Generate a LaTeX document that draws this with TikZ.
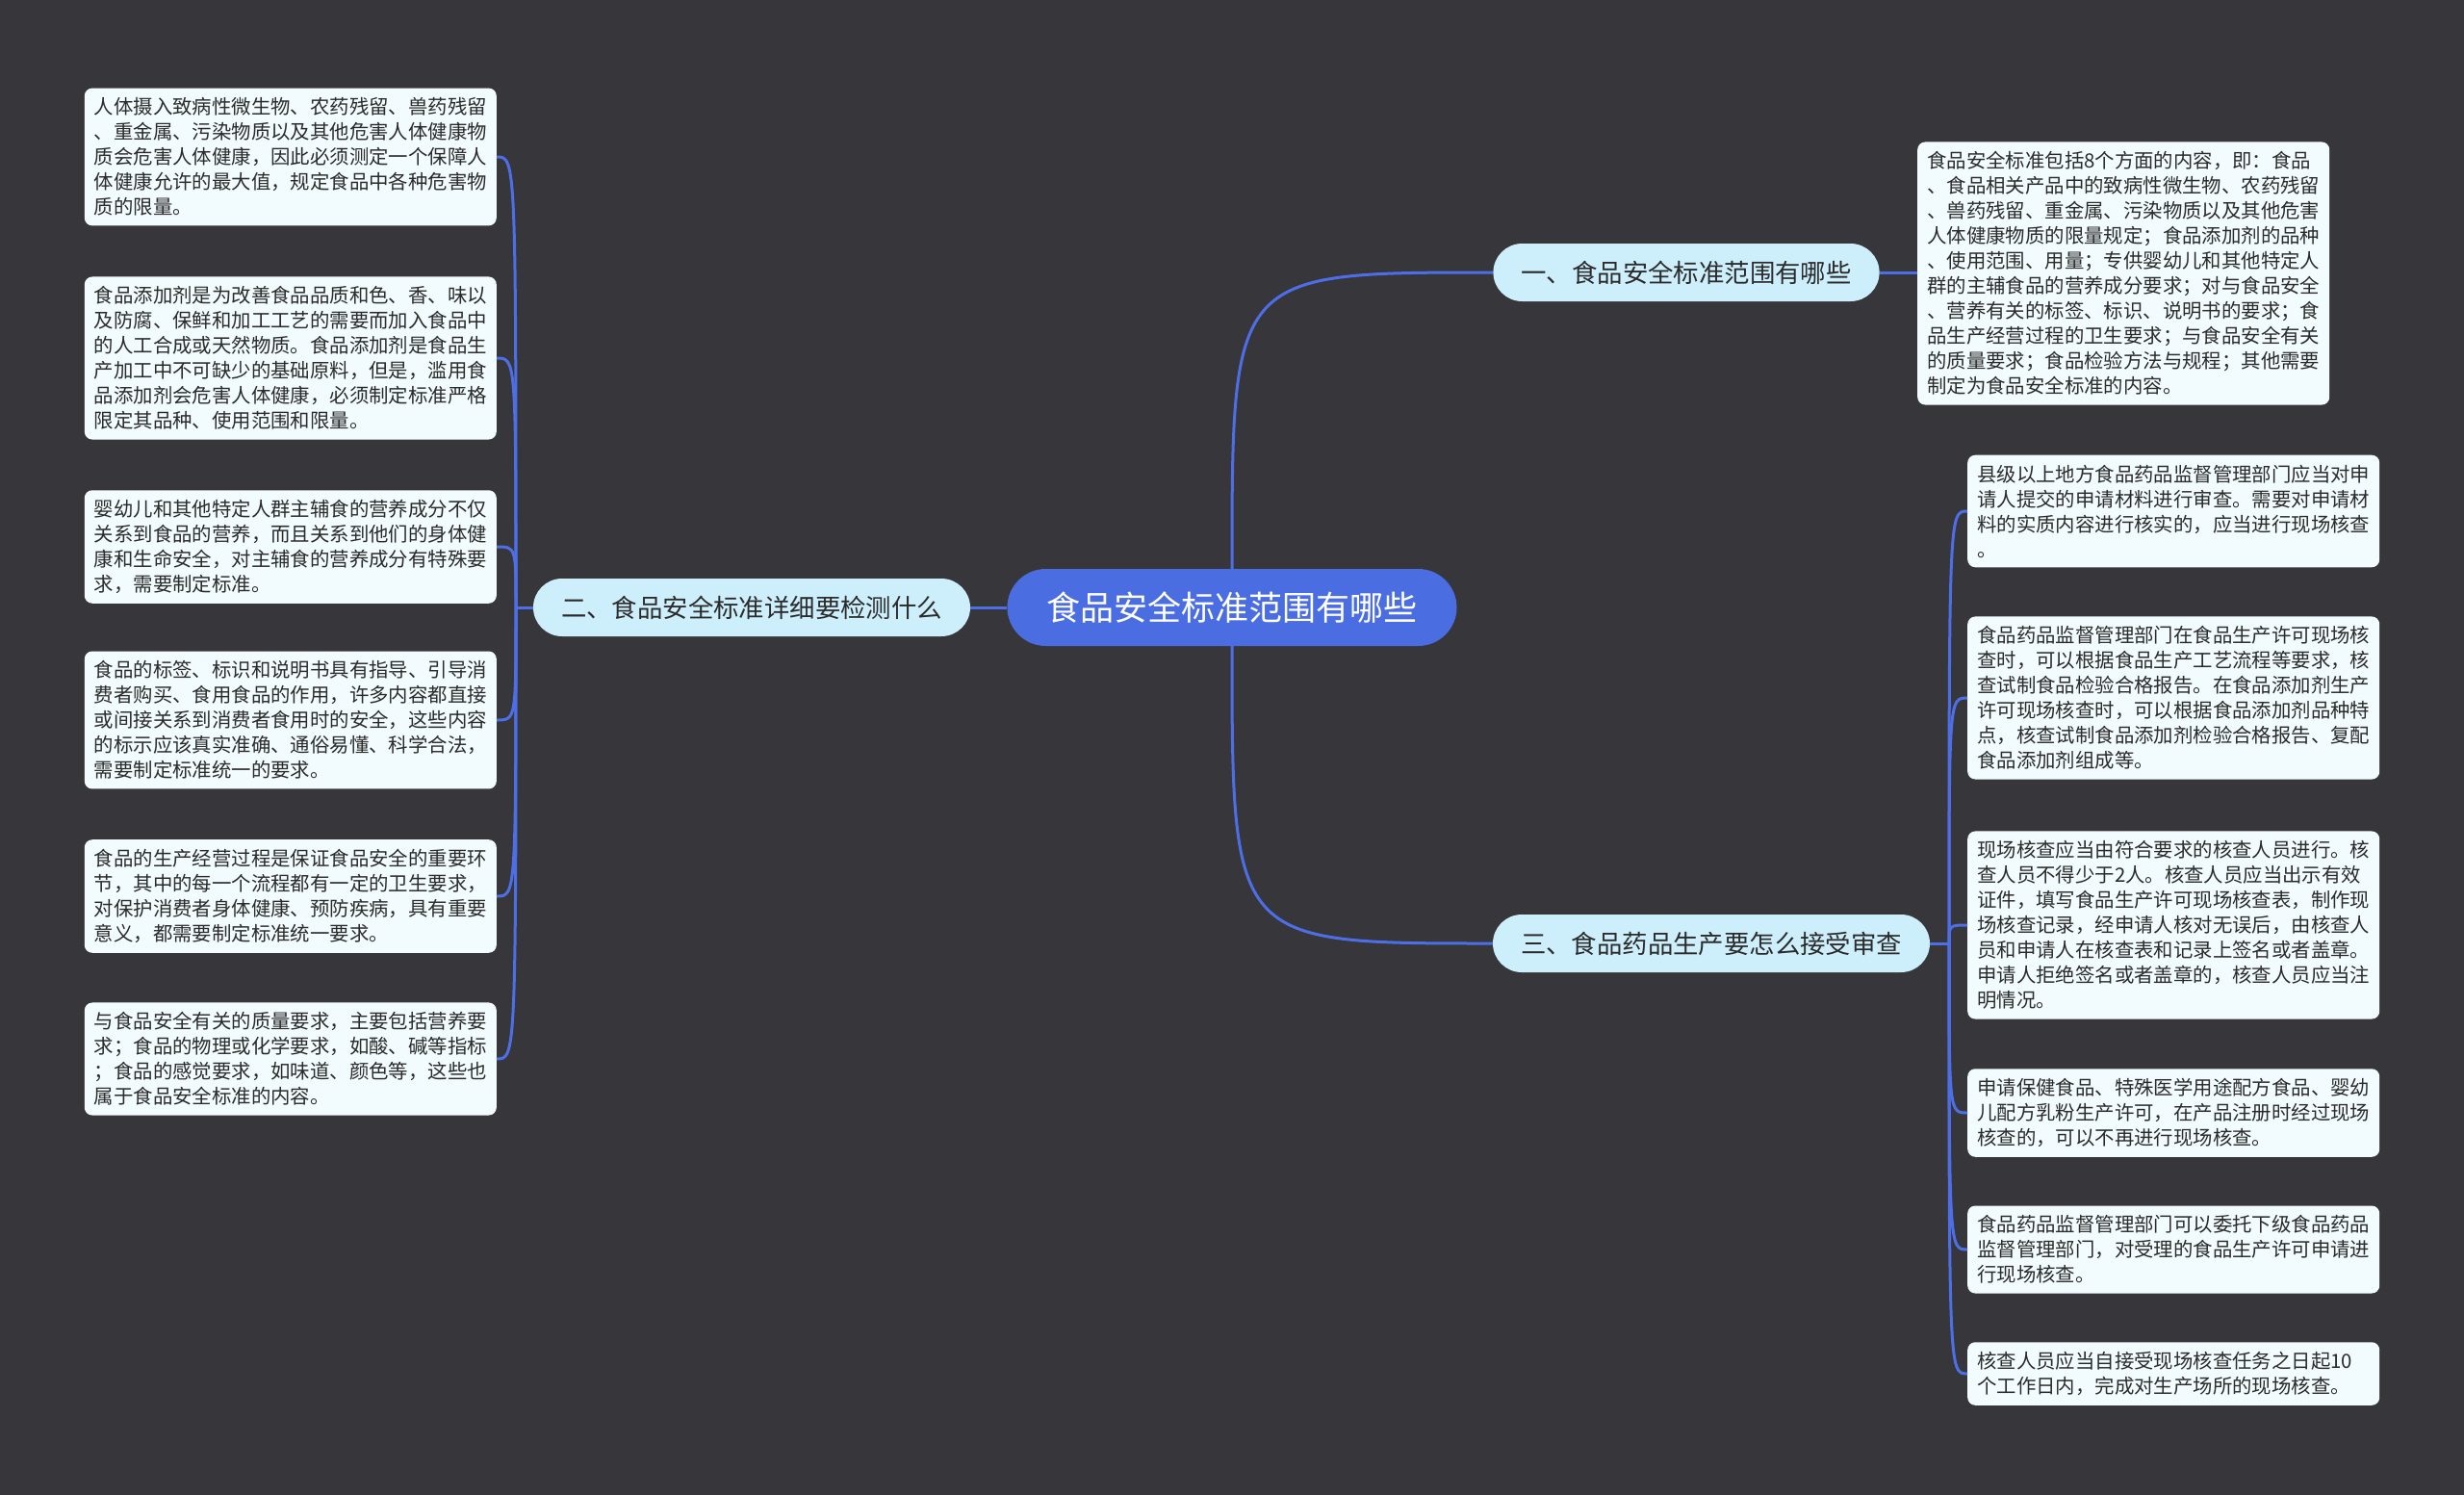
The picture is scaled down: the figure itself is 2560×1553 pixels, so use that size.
\documentclass[tikz,border=0pt]{standalone}
\usepackage{fontspec}
\setmainfont{Noto Sans CJK SC}
\usepackage{xcolor}
\definecolor{bgdark}{HTML}{37363A}
\definecolor{linkblue}{HTML}{4E6EE6}
\definecolor{topicblue}{HTML}{4A6EE2}
\definecolor{branchfill}{HTML}{CDEFFC}
\definecolor{leaffill}{HTML}{F2FBFE}
\definecolor{inkdark}{HTML}{2B2B2B}

\begin{document}
\begin{tikzpicture}[x=1pt, y=-1pt,
	topic/.style={fill=topicblue, text=white, rounded corners=40pt, minimum height=80pt, inner xsep=41pt, font=\fontsize{35}{42}\selectfont},
	branch/.style={fill=branchfill, text=inkdark, rounded corners=30pt, minimum height=60pt, inner xsep=29pt, font=\fontsize{26.4}{32}\selectfont},
	leaf/.style={fill=leaffill, text=inkdark, rounded corners=8pt, text width=408pt, align=left, inner xsep=10pt, inner ysep=10pt, font=\fontsize{20.4}{26}\selectfont},
	link/.style={draw=linkblue, line width=3pt}]
	\fill[bgdark] (0,0) rectangle (2560,1553);
	\useasboundingbox (0,0) rectangle (2560,1553);
	\node[topic] (center) at (1280,631) {食品安全标准范围有哪些};
	\node[branch] (br1) at (1752,283) {一、食品安全标准范围有哪些};
	\node[branch] (br2) at (781,631) {二、食品安全标准详细要检测什么};
	\node[branch] (br3) at (1778,980) {三、食品药品生产要怎么接受审查};

	\node[leaf, anchor=west] (r0) at (1992,284) {食品安全标准包括8个方面的内容，即：食品\\、食品相关产品中的致病性微生物、农药残留\\、兽药残留、重金属、污染物质以及其他危害\\人体健康物质的限量规定；食品添加剂的品种\\、使用范围、用量；专供婴幼儿和其他特定人\\群的主辅食品的营养成分要求；对与食品安全\\、营养有关的标签、标识、说明书的要求；食\\品生产经营过程的卫生要求；与食品安全有关\\的质量要求；食品检验方法与规程；其他需要\\制定为食品安全标准的内容。};

	\node[leaf, anchor=east] (l1) at (516,163) {人体摄入致病性微生物、农药残留、兽药残留\\、重金属、污染物质以及其他危害人体健康物\\质会危害人体健康，因此必须测定一个保障人\\体健康允许的最大值，规定食品中各种危害物\\质的限量。};
	\node[leaf, anchor=east] (l2) at (516,372) {食品添加剂是为改善食品品质和色、香、味以\\及防腐、保鲜和加工工艺的需要而加入食品中\\的人工合成或天然物质。食品添加剂是食品生\\产加工中不可缺少的基础原料，但是，滥用食\\品添加剂会危害人体健康，必须制定标准严格\\限定其品种、使用范围和限量。};
	\node[leaf, anchor=east] (l3) at (516,568) {婴幼儿和其他特定人群主辅食的营养成分不仅\\关系到食品的营养，而且关系到他们的身体健\\康和生命安全，对主辅食的营养成分有特殊要\\求，需要制定标准。};
	\node[leaf, anchor=east] (l4) at (516,748) {食品的标签、标识和说明书具有指导、引导消\\费者购买、食用食品的作用，许多内容都直接\\或间接关系到消费者食用时的安全，这些内容\\的标示应该真实准确、通俗易懂、科学合法，\\需要制定标准统一的要求。};
	\node[leaf, anchor=east] (l5) at (516,931) {食品的生产经营过程是保证食品安全的重要环\\节，其中的每一个流程都有一定的卫生要求，\\对保护消费者身体健康、预防疾病，具有重要\\意义，都需要制定标准统一要求。};
	\node[leaf, anchor=east] (l6) at (516,1100) {与食品安全有关的质量要求，主要包括营养要\\求；食品的物理或化学要求，如酸、碱等指标\\；食品的感觉要求，如味道、颜色等，这些也\\属于食品安全标准的内容。};

	\node[leaf, anchor=west] (r1) at (2044,531) {县级以上地方食品药品监督管理部门应当对申\\请人提交的申请材料进行审查。需要对申请材\\料的实质内容进行核实的，应当进行现场核查\\。};
	\node[leaf, anchor=west] (r2) at (2044,725) {食品药品监督管理部门在食品生产许可现场核\\查时，可以根据食品生产工艺流程等要求，核\\查试制食品检验合格报告。在食品添加剂生产\\许可现场核查时，可以根据食品添加剂品种特\\点，核查试制食品添加剂检验合格报告、复配\\食品添加剂组成等。};
	\node[leaf, anchor=west] (r3) at (2044,961) {现场核查应当由符合要求的核查人员进行。核\\查人员不得少于2人。核查人员应当出示有效\\证件，填写食品生产许可现场核查表，制作现\\场核查记录，经申请人核对无误后，由核查人\\员和申请人在核查表和记录上签名或者盖章。\\申请人拒绝签名或者盖章的，核查人员应当注\\明情况。};
	\node[leaf, anchor=west] (r4) at (2044,1156) {申请保健食品、特殊医学用途配方食品、婴幼\\儿配方乳粉生产许可，在产品注册时经过现场\\核查的，可以不再进行现场核查。};
	\node[leaf, anchor=west] (r5) at (2044,1298) {食品药品监督管理部门可以委托下级食品药品\\监督管理部门，对受理的食品生产许可申请进\\行现场核查。};
	\node[leaf, anchor=west] (r6) at (2044,1427) {核查人员应当自接受现场核查任务之日起10\\个工作日内，完成对生产场所的现场核查。};

	\coordinate (jl) at (536,631);
	\coordinate (jr) at (2025,980);
	\draw[link] (center.north) .. controls (center.north|-br1.west) .. (br1.west);
	\draw[link] (center.south) .. controls (center.south|-br3.west) .. (br3.west);
	\draw[link] (center.west) -- (br2.east);
	\draw[link] (br1.east) -- (r0.west|-br1.east);
	\draw[link] (br2.west) -- (jl);
	\draw[link] (br3.east) -- (jr);
	\foreach \n in {l1,l2,l3,l4,l5,l6}
	  \draw[link] (jl) .. controls (jl|-\n.east) .. (\n.east);
	\foreach \n in {r1,r2,r3,r4,r5,r6}
	  \draw[link] (jr) .. controls (jr|-\n.west) .. (\n.west);
\end{tikzpicture}
\end{document}
